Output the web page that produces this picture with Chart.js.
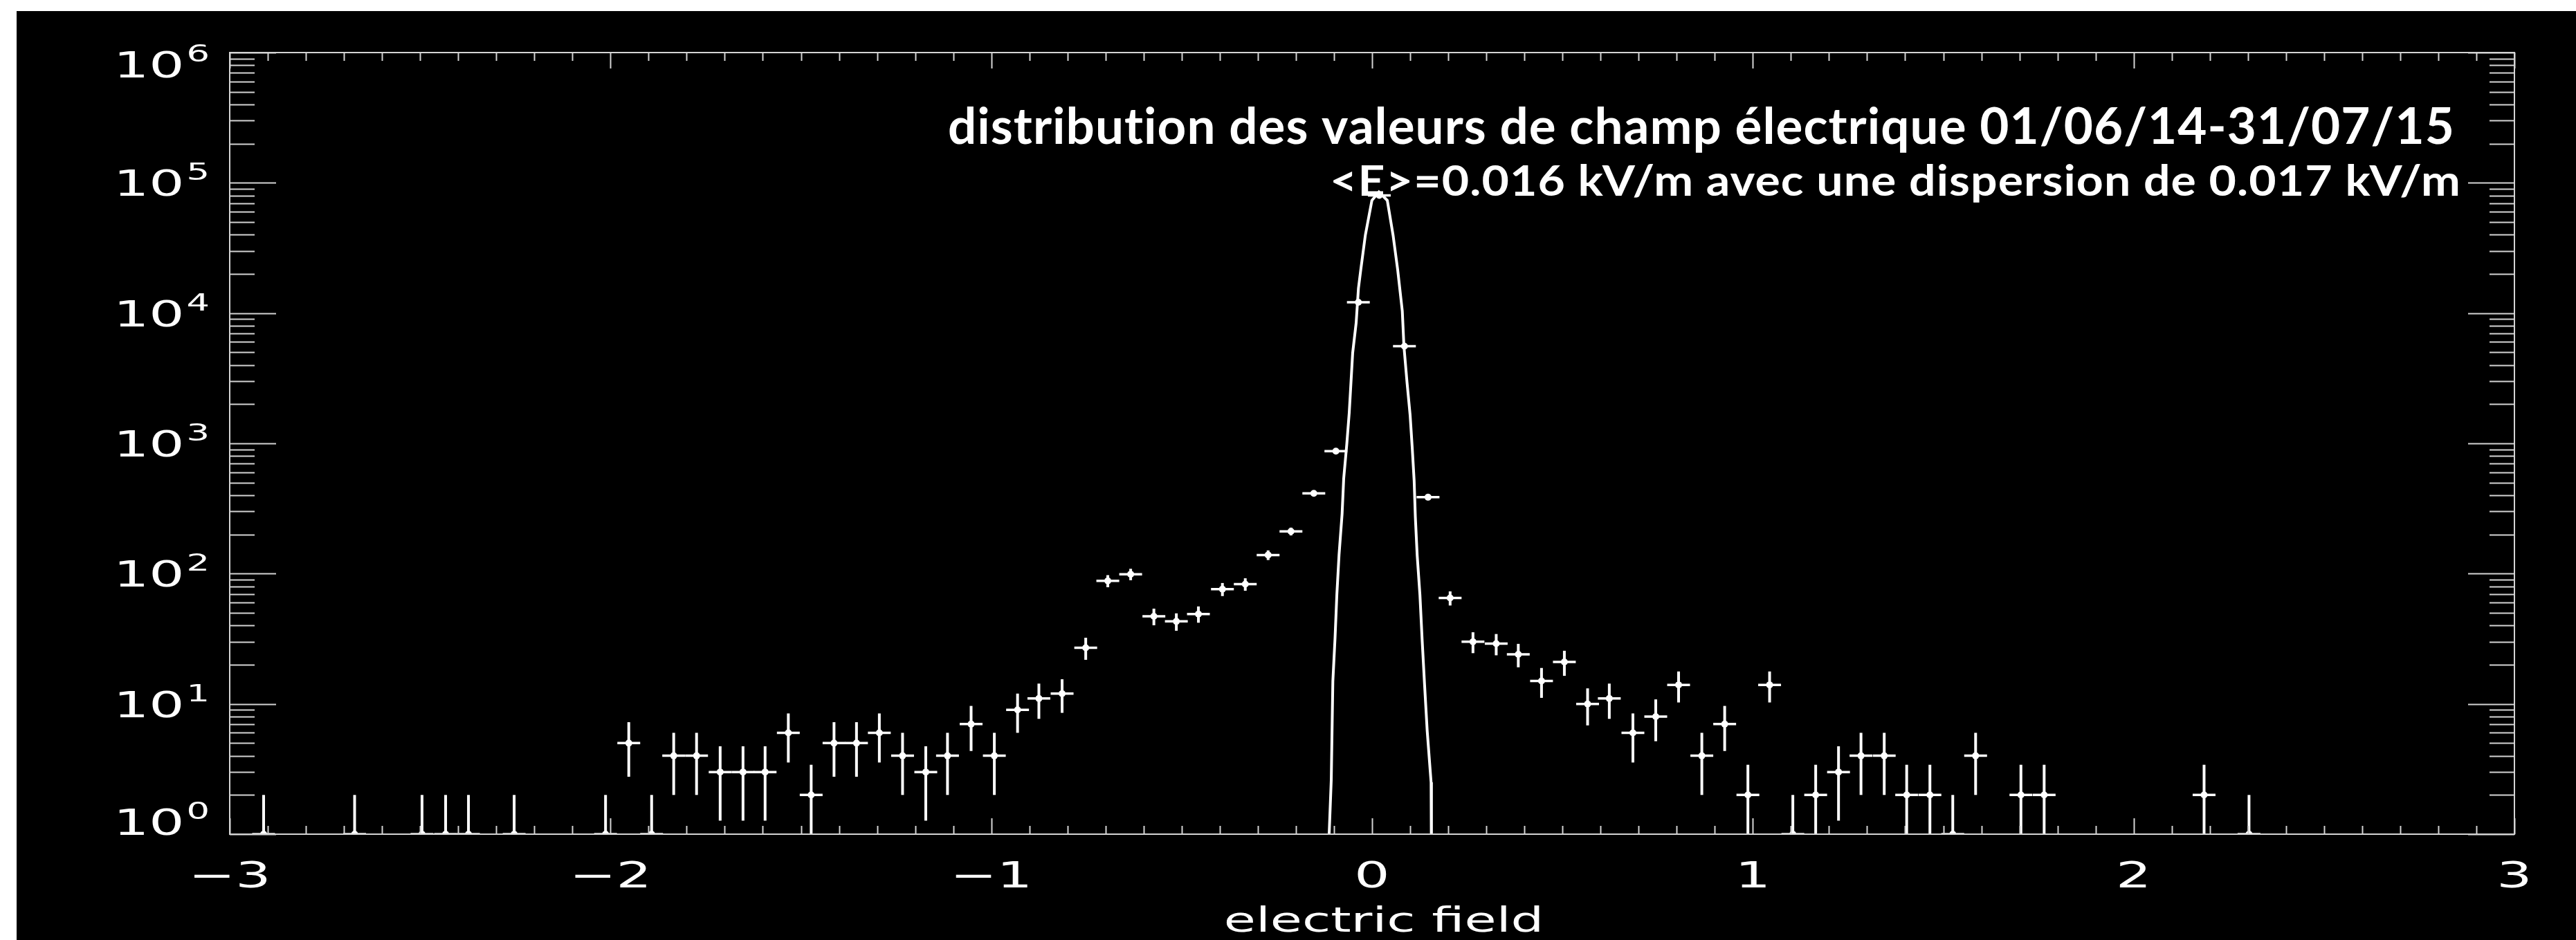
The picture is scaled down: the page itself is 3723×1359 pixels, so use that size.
<!DOCTYPE html>
<html>
<head>
<meta charset="utf-8">
<title>distribution des valeurs de champ électrique</title>
<script src="https://cdn.jsdelivr.net/npm/chart.js@4.4.0/dist/chart.umd.min.js"></script>
<style>
    html, body { margin: 0; padding: 0; background: #ffffff; overflow: hidden; }
    canvas { display: block; }
</style>
</head>
<body>
<canvas id="fieldHistogram" width="3723" height="1359"></canvas>
<script>
// Histogram bins (bin centre in kV/m, number of values, Poisson error)
const binCentres = [
    -2.911, -2.672, -2.495, -2.433, -2.373, -2.253, -2.013, -1.952, -1.892, -1.834,
    -1.774, -1.712, -1.652, -1.594, -1.533, -1.473, -1.413, -1.354, -1.294, -1.233,
    -1.172, -1.115, -1.053, -0.992, -0.931, -0.875, -0.814, -0.752, -0.694, -0.634,
    -0.573, -0.514, -0.456, -0.393, -0.333, -0.273, -0.213, -0.153, -0.095, -0.036,
    0.019, 0.085, 0.147, 0.205, 0.265, 0.326, 0.384, 0.445, 0.505, 0.566,
    0.623, 0.685, 0.745, 0.805, 0.866, 0.926, 0.987, 1.044, 1.105, 1.165,
    1.225, 1.284, 1.345, 1.404, 1.465, 1.525, 1.585, 1.704, 1.765, 2.185, 2.303
];
const binCounts = [
    1, 1, 1, 1, 1, 1, 1, 5, 1, 4,
    4, 3, 3, 3, 6, 2, 5, 5, 6, 4,
    3, 4, 7, 4, 9, 11, 12, 27, 88, 99,
    47, 43, 49, 76, 83, 139, 211, 413, 871, 12100,
    80000, 5570, 386, 65, 30, 29, 24, 15, 21, 10,
    11, 6, 8, 14, 4, 7, 2, 14, 1, 2,
    3, 4, 4, 2, 2, 1, 4, 2, 2, 2, 1
];
const countErrors = [
    1, 1, 1, 1, 1, 1, 1, 2.24, 1, 2,
    2, 1.73, 1.73, 1.73, 2.45, 1.41, 2.24, 2.24, 2.45, 2,
    1.73, 2, 2.65, 2, 3, 3.32, 3.46, 5.2, 9.38, 9.95,
    6.86, 6.56, 7, 8.72, 9.11, 11.8, 14.5, 20.3, 29.5, 110,
    283, 74.6, 19.6, 8.06, 5.48, 5.39, 4.9, 3.87, 4.58, 3.16,
    3.32, 2.45, 2.83, 3.74, 2, 2.65, 1.41, 3.74, 1, 1.41,
    1.73, 2, 2, 1.41, 1.41, 1, 2, 1.41, 1.41, 1.41, 1
];
const binHalfWidth = 0.03;

// Gaussian fit curve
const fitX = [
    -0.115, -0.1127, -0.1072, -0.103, -0.0972, -0.0925, -0.0867, -0.0787, -0.0745, -0.0665,
    -0.06, -0.0509, -0.0418, -0.0358, -0.0296, -0.0176, -0.0005, 0.018, 0.04, 0.0551,
    0.0672, 0.0794, 0.0836, 0.0918, 0.0999, 0.1054, 0.1105, 0.1136, 0.1185, 0.1257,
    0.1315, 0.1379, 0.1448, 0.155, 0.156
];
const fitY = [
    0.5, 1, 2.6, 14.9, 32.2, 68.7, 140, 288, 537, 977,
    1714, 4966, 8414, 15490, 21580, 39720, 73280, 85100, 73280, 39720,
    21580, 10350, 5610, 2938, 1652, 931, 518, 274, 138, 68.7,
    31, 14, 6.2, 2.5, 0.5
];

// Axis ticks and labels
const xMajorTicks = [-3, -2, -1, 0, 1, 2, 3];
const xTickLabels = ['\u22123', '\u22122', '\u22121', '0', '1', '2', '3'];
const yMajorTicks = [1, 10, 100, 1000, 10000, 100000, 1000000];
const yTickExponents = ['0', '1', '2', '3', '4', '5', '6'];

const xAxisTitle = 'electric field';
const titleLine = 'distribution des valeurs de champ électrique 01/06/14-31/07/15';
const statsLine = '<E>=0.016 kV/m avec une dispersion de 0.017 kV/m';

const axisColor = '#d4d4d4';
const inkColor = '#ffffff';
const vectorFont = '"DejaVu Sans", "Liberation Sans", sans-serif';
const noteFont = 'Lato, "Open Sans", sans-serif';

// text drawn wider than the font, like the IDL vector font
function stretchedText(ctx, text, x, y, align, stretch) {
    ctx.save();
    ctx.translate(x, y);
    ctx.scale(stretch, 1);
    ctx.textAlign = align;
    ctx.textBaseline = 'alphabetic';
    ctx.fillText(text, 0, 0);
    ctx.restore();
}

// text squeezed or stretched to fit a given width, right aligned
function fittedText(ctx, text, right, baseline, width) {
    ctx.save();
    ctx.letterSpacing = '1px'; // also keeps "ti" from turning into a ligature
    const natural = ctx.measureText(text).width;
    ctx.translate(right, baseline);
    ctx.scale(width / natural, 1);
    ctx.textAlign = 'right';
    ctx.textBaseline = 'alphabetic';
    ctx.fillText(text, 0, 0);
    ctx.restore();
}

const idlFrame = {
    id: 'idlFrame',
    beforeDraw(chart) {
        const ctx = chart.ctx;
        ctx.save();
        ctx.fillStyle = '#ffffff';
        ctx.fillRect(0, 0, chart.width, chart.height);
        ctx.fillStyle = '#000000';
        ctx.fillRect(24, 16, chart.width - 24, chart.height - 16);
        ctx.restore();
    },
    beforeDatasetsDraw(chart) {
        // error bars of the histogram points
        const ctx = chart.ctx;
        const xs = chart.scales.x;
        const ys = chart.scales.y;
        const area = chart.chartArea;
        ctx.save();
        ctx.beginPath();
        ctx.rect(area.left, area.top, area.right - area.left, area.bottom - area.top);
        ctx.clip();
        ctx.strokeStyle = inkColor;
        ctx.lineCap = 'butt';
        binCentres.forEach(function (x, i) {
            const n = binCounts[i];
            const e = countErrors[i];
            const px = xs.getPixelForValue(x);
            const py = ys.getPixelForValue(n);
            const lo = Math.max(n - e, ys.min);
            ctx.lineWidth = 4;
            ctx.beginPath();
            ctx.moveTo(px, ys.getPixelForValue(lo));
            ctx.lineTo(px, ys.getPixelForValue(n + e));
            ctx.stroke();
            ctx.lineWidth = 3.5;
            ctx.beginPath();
            ctx.moveTo(xs.getPixelForValue(x - binHalfWidth), py);
            ctx.lineTo(xs.getPixelForValue(x + binHalfWidth), py);
            ctx.stroke();
        });
        ctx.restore();
    },
    afterDraw(chart) {
        const ctx = chart.ctx;
        const xs = chart.scales.x;
        const ys = chart.scales.y;
        const a = chart.chartArea;
        ctx.save();

        // box
        ctx.strokeStyle = axisColor;
        ctx.lineWidth = 2;
        ctx.strokeRect(a.left, a.top, a.right - a.left, a.bottom - a.top);

        // x ticks every 0.1, on bottom and top, pointing inwards
        ctx.beginPath();
        for (let k = -30; k <= 30; k++) {
            const px = Math.round(xs.getPixelForValue(k / 10)) + 0.5;
            const len = (k % 10 === 0) ? 23 : 12;
            ctx.moveTo(px, a.bottom);
            ctx.lineTo(px, a.bottom - len);
            ctx.moveTo(px, a.top);
            ctx.lineTo(px, a.top + len);
        }
        // y ticks: decades long, 2..9 short, on left and right
        yMajorTicks.forEach(function (v, i) {
            const steps = (i < yMajorTicks.length - 1) ? 9 : 1;
            for (let m = 1; m <= steps; m++) {
                const py = Math.round(ys.getPixelForValue(v * m)) + 0.5;
                const len = (m === 1) ? 67 : 36;
                ctx.moveTo(a.left, py);
                ctx.lineTo(a.left + len, py);
                ctx.moveTo(a.right, py);
                ctx.lineTo(a.right - len, py);
            }
        });
        ctx.stroke();

        ctx.fillStyle = inkColor;

        // x tick labels
        ctx.font = '52px ' + vectorFont;
        xMajorTicks.forEach(function (v, i) {
            stretchedText(ctx, xTickLabels[i], xs.getPixelForValue(v), 1283, 'center', 1.55);
        });

        // y tick labels 10^n
        const labelDrop = [1, 19, 19, 19, 19, 19, 36];
        yMajorTicks.forEach(function (v, i) {
            const base = ys.getPixelForValue(v) + labelDrop[i];
            ctx.font = '34px ' + vectorFont;
            const expWidth = ctx.measureText(yTickExponents[i]).width * 1.55;
            const expLeft = a.left - 29 - expWidth;
            stretchedText(ctx, yTickExponents[i], expLeft, base - 23, 'left', 1.55);
            ctx.font = '52px ' + vectorFont;
            stretchedText(ctx, '10', expLeft - 3, base, 'right', 1.55);
        });

        // x axis title
        ctx.font = '50px ' + vectorFont;
        stretchedText(ctx, xAxisTitle, 2000, 1347, 'center', 1.5);

        // annotation lines
        ctx.font = 'bold 72px ' + noteFont;
        fittedText(ctx, titleLine, 3548, 208, 2178);
        ctx.font = 'bold 62px ' + noteFont;
        fittedText(ctx, statsLine, 3557, 283, 1635);

        ctx.restore();
    }
};

const ctx = document.getElementById('fieldHistogram').getContext('2d');

new Chart(ctx, {
    type: 'scatter',
    data: {
        datasets: [
            {
                label: 'histogramme',
                data: binCentres.map(function (x, i) { return { x: x, y: binCounts[i] }; }),
                pointRadius: 5,
                pointBackgroundColor: inkColor,
                pointBorderWidth: 0,
                showLine: false,
                clip: 0
            },
            {
                label: 'ajustement gaussien',
                type: 'line',
                data: fitX.map(function (x, i) { return { x: x, y: fitY[i] }; }),
                borderColor: inkColor,
                borderWidth: 4,
                pointRadius: 0,
                tension: 0,
                fill: false
            }
        ]
    },
    options: {
        responsive: false,
        devicePixelRatio: 1,
        animation: false,
        layout: {
            padding: { left: 332, top: 76, right: 89, bottom: 153 }
        },
        plugins: {
            legend: { display: false },
            tooltip: { enabled: false }
        },
        scales: {
            x: { type: 'linear', min: -3, max: 3, display: false },
            y: { type: 'logarithmic', min: 1, max: 1000000, display: false }
        }
    },
    plugins: [idlFrame]
});
</script>
</body>
</html>
